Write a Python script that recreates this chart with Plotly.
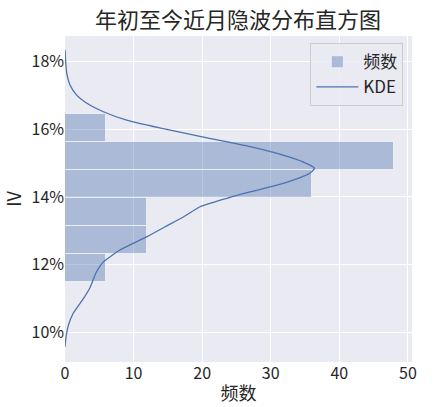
import plotly.graph_objects as go

# histogram of IV (in %), six equal-width bins
bin_edges = [11.50, 12.32, 13.15, 13.97, 14.79, 15.62, 16.44]
bin_counts = [6, 12, 12, 36, 48, 6]

# KDE curve scaled to counts
kde_iv = [9.57, 9.86, 10.21, 10.56, 11.00, 11.30, 11.79, 12.08, 12.43, 12.82,
          13.12, 13.40, 13.71, 13.96, 14.15, 14.35, 14.55, 14.70, 14.85, 15.04,
          15.24, 15.49, 15.78, 16.04, 16.27, 16.52, 16.77, 17.01, 17.31, 17.66,
          18.00, 18.35]
kde_count = [0.0, 0.15, 0.5, 1.2, 2.7, 3.6, 4.6, 5.6, 8.0, 11.9,
             14.6, 17.2, 19.7, 23.6, 27.0, 30.9, 34.0, 35.7, 36.4, 34.7,
             31.8, 27.0, 20.0, 13.8, 9.0, 5.6, 3.2, 1.7, 0.73, 0.25,
             0.1, 0.0]

y_ticks = [10, 12, 14, 16, 18]
y_labels = ["10%", "12%", "14%", "16%", "18%"]

centers = [(a + b) / 2 for a, b in zip(bin_edges[:-1], bin_edges[1:])]
widths = [b - a for a, b in zip(bin_edges[:-1], bin_edges[1:])]

font = "Noto Sans CJK SC"
blue = "#4c72b0"

fig = go.Figure()
fig.add_trace(go.Bar(
    x=bin_counts, y=centers, width=widths, orientation="h",
    name="频数",
    marker=dict(color="rgba(76,114,176,0.4)",
                line=dict(color="rgba(255,255,255,0.6)", width=1)),
))
fig.add_trace(go.Scatter(
    x=kde_count, y=kde_iv, mode="lines", name="KDE",
    line=dict(color=blue, width=1.3, shape="spline", smoothing=0.5),
))

fig.update_layout(
    width=445, height=407,
    paper_bgcolor="white", plot_bgcolor="#eaeaf2",
    margin=dict(l=65, r=33, t=36, b=45),
    font=dict(family=font, size=16, color="#262626"),
    title=dict(text="年初至今近月隐波分布直方图", x=0.535, xanchor="center",
               y=0.95, yanchor="middle", font=dict(size=22, color="#262626")),
    showlegend=True,
    legend=dict(x=0.975, y=0.978, xanchor="right", yanchor="top",
                bgcolor="rgba(234,234,242,0.8)", bordercolor="#cccccc",
                borderwidth=1, font=dict(size=17), itemwidth=42),
    bargap=0,
)
fig.update_xaxes(
    range=[0, 50.6], dtick=10, showgrid=True, gridcolor="white", gridwidth=1,
    zeroline=False, ticks="", showline=False, automargin=False,
    title=dict(text="频数", font=dict(size=18), standoff=4),
)
fig.update_yaxes(
    range=[9.12, 18.76], tickmode="array", tickvals=y_ticks, ticktext=y_labels,
    showgrid=True, gridcolor="white", gridwidth=1,
    zeroline=False, ticks="", showline=False, automargin=False,
    title=dict(text="IV", font=dict(size=18), standoff=6),
)

# page body has a default 8px margin; drop it so the figure fills the window
fig.write_html("out.html", config={"displayModeBar": False},
               post_script="document.body.style.margin='0';")
